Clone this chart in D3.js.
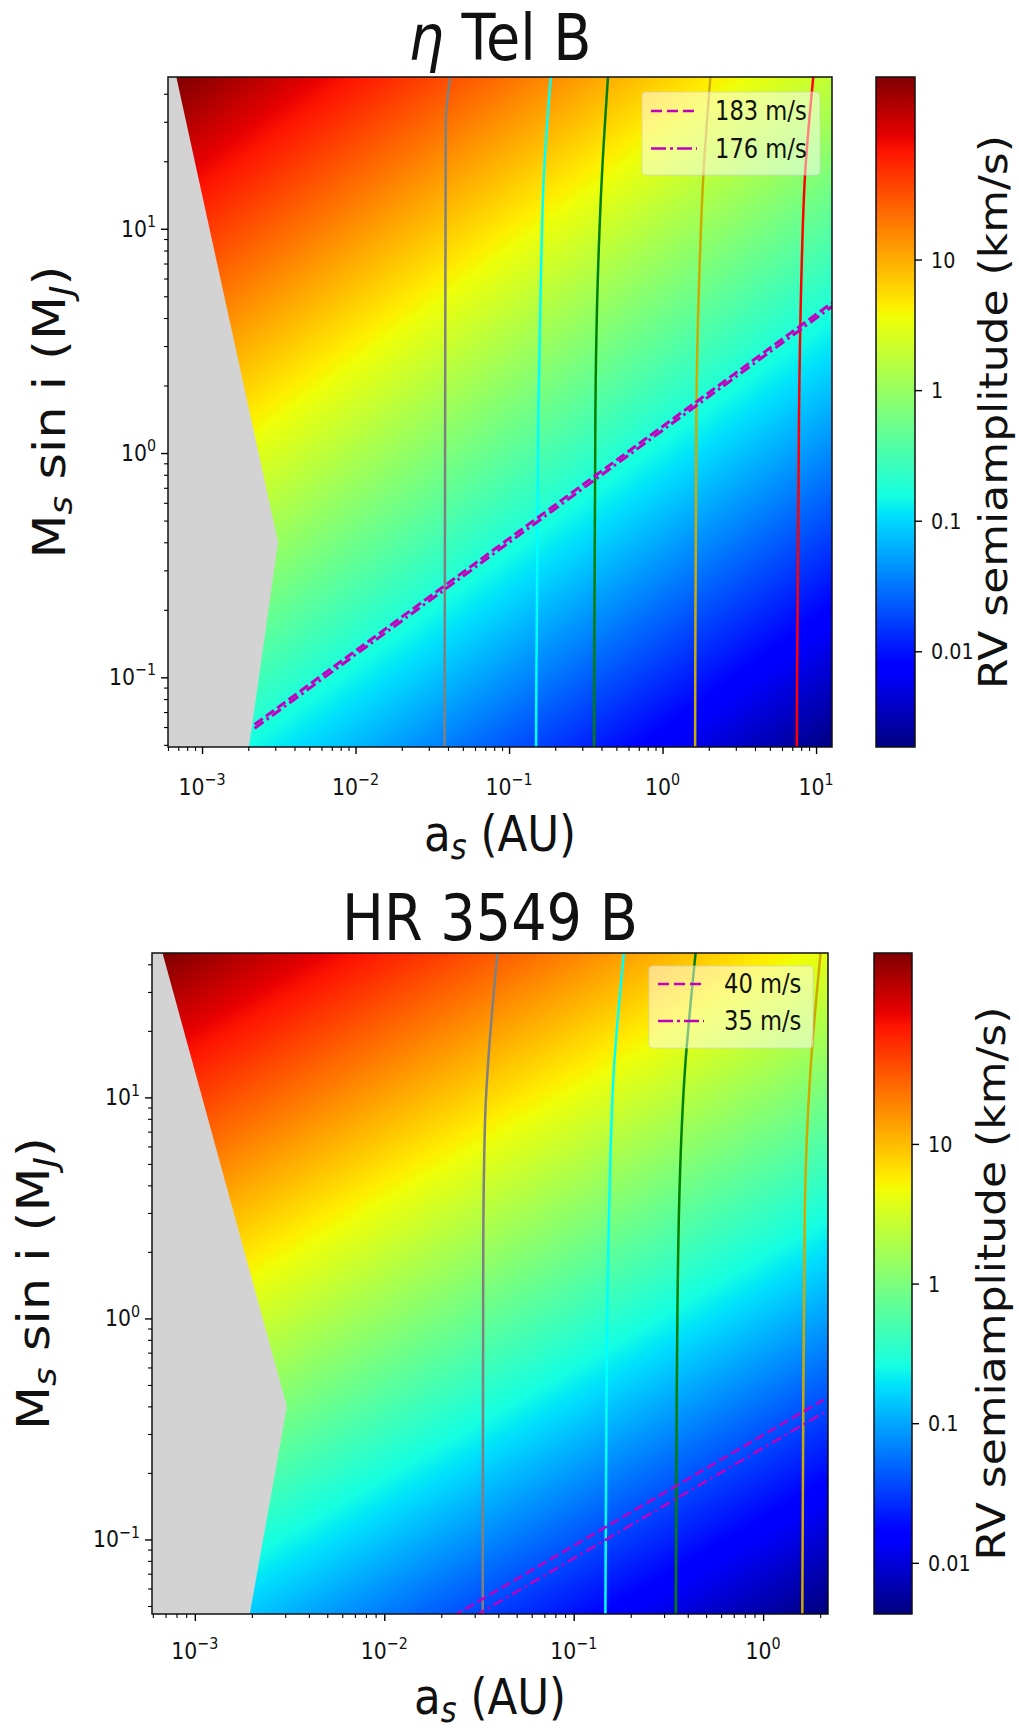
<!DOCTYPE html>
<html>
<head>
<meta charset="utf-8">
<script src="https://cdn.jsdelivr.net/npm/d3@7"></script>
<style>
  body { margin: 0; background: #fff; }
  svg { display: block; }
  text { font-family: "DejaVu Sans", sans-serif; fill: #111; }
</style>
</head>
<body>
<svg id="fig" width="1019" height="1730"></svg>
<script>
// ---------- values ----------
// eta Tel B panel
const etaXDomain = [6.0e-4, 12.7];          // a_s (AU)
const etaYDomain = [0.0489, 47.5];          // M_s sin i (M_J)
const etaKRange = [0.00185, 250];           // colour limits, km/s
const etaGridA = [1e-3, 1e-2, 1e-1, 1, 10];
const etaGridM = [0.1, 1, 10];
const etaGridK = [                          // km/s, rows follow etaGridM
  [0.44, 0.139, 0.044, 0.0139, 0.0044],
  [4.4, 1.39, 0.44, 0.139, 0.044],
  [44, 13.9, 4.4, 1.39, 0.44]
];
const etaExclA = [6.8e-4, 3.13e-3, 2.02e-3];  // edge of the grey zone
const etaExclM = [47.5, 0.40, 0.0489];
const etaGray  = [[0.0380, 0.0489], [0.0383, 1], [0.0387, 30], [0.0415, 47.5]];
const etaCyan  = [[0.150, 0.0489], [0.155, 1.46], [0.161, 5.8], [0.169, 18], [0.187, 47.5]];
const etaGreen = [[0.358, 0.0489], [0.365, 1.46], [0.378, 5.8], [0.404, 18], [0.441, 47.5]];
const etaGold  = [[1.63, 0.0489], [1.66, 1.46], [1.73, 5.8], [1.85, 18], [2.05, 47.5]];
const etaRed   = [[7.49, 0.0489], [7.74, 1.46], [8.01, 5.8], [8.5, 18], [9.59, 47.5]];
const etaDash  = [[2.2e-3, 0.0616], [12.7, 4.68]];   // 183 m/s
const etaDot   = [[2.2e-3, 0.0592], [12.7, 4.50]];   // 176 m/s
const etaLegend = ["183 m/s", "176 m/s"];
const etaXTicks = [1e-3, 1e-2, 1e-1, 1, 10];
const etaXExp = ["\u22123", "\u22122", "\u22121", "0", "1"];

// HR 3549 B panel
const hrXDomain = [5.94e-4, 2.2];
const hrYDomain = [0.046, 45];
const hrKRange = [0.0043, 233];
const hrGridA = [1e-3, 1e-2, 1e-1, 1];
const hrGridM = [0.1, 1, 10];
const hrGridK = [
  [0.43, 0.135, 0.043, 0.0135],
  [4.3, 1.35, 0.43, 0.135],
  [43, 13.5, 4.3, 1.35]
];
const hrExclA = [6.75e-4, 3.06e-3, 1.95e-3];
const hrExclM = [45, 0.40, 0.046];
const hrGray  = [[0.0331, 0.046], [0.0333, 2.0], [0.0340, 7.6], [0.0396, 45]];
const hrCyan  = [[0.147, 0.046], [0.149, 0.47], [0.154, 3.2], [0.163, 13.5], [0.184, 45]];
const hrGreen = [[0.346, 0.046], [0.350, 0.47], [0.360, 3.2], [0.387, 13.5], [0.440, 45]];
const hrGold  = [[1.61, 0.046], [1.63, 0.47], [1.66, 3.2], [1.78, 13.5], [2.01, 45]];
const hrDash  = [[0.0231, 0.045], [2.08, 0.428]];    // 40 m/s
const hrDot   = [[0.030, 0.045], [2.08, 0.374]];     // 35 m/s
const hrLegend = ["40 m/s", "35 m/s"];
const hrXTicks = [1e-3, 1e-2, 1e-1, 1];
const hrXExp = ["\u22123", "\u22122", "\u22121", "0"];

const yTicks = [0.1, 1, 10];
const yExp = ["\u22121", "0", "1"];
const cbTicks = [0.01, 0.1, 1, 10];
const cbLabels = ["0.01", "0.1", "1", "10"];

// ---------- drawing ----------
const SQ = 0.87;   // text in the picture is narrower than it is tall
const svg = d3.select("#fig");
const defs = svg.append("defs");

function jet(t) {
  t = Math.max(0, Math.min(1, t));
  let r, g, b;
  r = t < 0.35 ? 0 : t < 0.66 ? (t - 0.35) / 0.31 : t < 0.89 ? 1 : 1 - 0.5 * (t - 0.89) / 0.11;
  g = t < 0.125 ? 0 : t < 0.375 ? (t - 0.125) / 0.25 : t < 0.64 ? 1 : t < 0.91 ? 1 - (t - 0.64) / 0.27 : 0;
  b = t < 0.11 ? 0.5 + 0.5 * t / 0.11 : t < 0.34 ? 1 : t < 0.65 ? 1 - (t - 0.34) / 0.31 : 0;
  return [r * 255, g * 255, b * 255];
}

// text with sub/superscripts, squeezed horizontally like the picture
function mtext(parent, x, y, parts, o) {
  const g = parent.append("g")
    .attr("transform", `translate(${x},${y}) scale(${SQ},1)` + (o.rot ? ` rotate(${o.rot})` : ""));
  const t = g.append("text").attr("font-size", o.fs).attr("text-anchor", o.anchor || "start");
  let shift = 0;
  parts.forEach(p => {
    const sz = p.s ? o.fs * 0.7 : o.fs;
    const target = p.s === "sup" ? -o.fs * 0.42 : p.s === "sub" ? o.fs * 0.16 : 0;
    const ts = t.append("tspan").attr("font-size", sz).attr("dy", target - shift).text(p.t);
    if (p.i) ts.attr("font-style", "italic");
    shift = target;
  });
  return t;
}

// bilinear interpolation of log K on the read grid (log-log axes)
function makeField(gA, gM, gK) {
  const la = gA.map(Math.log10), lm = gM.map(Math.log10);
  const lk = gK.map(r => r.map(Math.log10));
  function seg(arr, v) {
    let i = 0;
    while (i < arr.length - 2 && v > arr[i + 1]) i++;
    return [i, (v - arr[i]) / (arr[i + 1] - arr[i])];
  }
  return (a, m) => {
    const [i, u] = seg(la, Math.log10(a));
    const [j, v] = seg(lm, Math.log10(m));
    const k00 = lk[j][i], k01 = lk[j][i + 1], k10 = lk[j + 1][i], k11 = lk[j + 1][i + 1];
    return (1 - v) * ((1 - u) * k00 + u * k01) + v * ((1 - u) * k10 + u * k11);
  };
}

function drawPanel(cfg) {
  const { box, cb } = cfg;
  const x = d3.scaleLog().domain(cfg.xDomain).range([box.left, box.right]);
  const y = d3.scaleLog().domain(cfg.yDomain).range([box.bottom, box.top]);
  const c = d3.scaleLog().domain(cfg.kRange).range([0, 1]);
  const field = makeField(cfg.gridA, cfg.gridM, cfg.gridK);

  // heat map
  const W = Math.round(box.right - box.left), H = Math.round(box.bottom - box.top);
  const canvas = document.createElement("canvas");
  canvas.width = W; canvas.height = H;
  const ctx = canvas.getContext("2d");
  const img = ctx.createImageData(W, H);
  for (let j = 0; j < H; j++) {
    const m = y.invert(box.top + j + 0.5);
    for (let i = 0; i < W; i++) {
      const a = x.invert(box.left + i + 0.5);
      const col = jet(c(Math.pow(10, field(a, m))));
      const k = (j * W + i) * 4;
      img.data[k] = col[0]; img.data[k + 1] = col[1]; img.data[k + 2] = col[2]; img.data[k + 3] = 255;
    }
  }
  ctx.putImageData(img, 0, 0);
  svg.append("image")
    .attr("x", box.left).attr("y", box.top).attr("width", box.right - box.left).attr("height", box.bottom - box.top)
    .attr("preserveAspectRatio", "none")
    .attr("href", canvas.toDataURL());

  const clipId = "clip" + cfg.id;
  defs.append("clipPath").attr("id", clipId).append("rect")
    .attr("x", box.left).attr("y", box.top).attr("width", box.right - box.left).attr("height", box.bottom - box.top);
  const plot = svg.append("g").attr("clip-path", `url(#${clipId})`);

  // excluded (grey) zone
  const edge = cfg.exclA.map((a, i) => [x(a), y(cfg.exclM[i])]);
  const poly = [[x(cfg.xDomain[0]), y(cfg.yDomain[1])], ...edge, [x(cfg.xDomain[0]), y(cfg.yDomain[0])]];
  plot.append("path").attr("d", d3.line()(poly) + "Z").attr("fill", "#d3d3d3");

  // vertical curves
  const curve = d3.line().x(d => x(d[0])).y(d => y(d[1])).curve(d3.curveMonotoneY);
  cfg.curves.forEach(([pts, col]) => {
    const sorted = pts.slice().sort((p, q) => q[1] - p[1]);
    plot.append("path").attr("d", curve(sorted)).attr("fill", "none")
      .attr("stroke", col).attr("stroke-width", 2.5);
  });

  // RV limit lines
  const straight = d3.line().x(d => x(d[0])).y(d => y(d[1]));
  const dashes = ["10,4", "11,4,2.5,4"];
  [cfg.dash, cfg.dot].forEach((pts, i) => {
    plot.append("path").attr("d", straight(pts)).attr("fill", "none")
      .attr("stroke", "#bf00bf").attr("stroke-width", cfg.limitWidth).attr("stroke-dasharray", dashes[i]);
  });

  // frame
  svg.append("rect").attr("x", box.left).attr("y", box.top)
    .attr("width", box.right - box.left).attr("height", box.bottom - box.top)
    .attr("fill", "none").attr("stroke", "#111").attr("stroke-width", 1.5);

  // x axis ticks
  const minorX = x.ticks().filter(v => Math.abs(Math.log10(v) - Math.round(Math.log10(v))) > 1e-6);
  svg.append("g").attr("transform", `translate(0,${box.bottom})`)
    .call(d3.axisBottom(x).tickValues(minorX).tickSize(4).tickFormat(""))
    .call(g => { g.select(".domain").remove(); g.selectAll("line").attr("stroke-width", 1.1); });
  svg.append("g").attr("transform", `translate(0,${box.bottom})`)
    .call(d3.axisBottom(x).tickValues(cfg.xTicks).tickSize(7).tickFormat(""))
    .call(g => { g.select(".domain").remove(); g.selectAll("line").attr("stroke-width", 1.4); });
  cfg.xTicks.forEach((v, i) => {
    mtext(svg, x(v), box.bottom + cfg.xLabelDy, [{ t: "10" }, { t: cfg.xExp[i], s: "sup" }], { fs: 23.5, anchor: "middle" });
  });

  // y axis ticks
  const minorY = y.ticks().filter(v => Math.abs(Math.log10(v) - Math.round(Math.log10(v))) > 1e-6);
  svg.append("g").attr("transform", `translate(${box.left},0)`)
    .call(d3.axisLeft(y).tickValues(minorY).tickSize(4).tickFormat(""))
    .call(g => { g.select(".domain").remove(); g.selectAll("line").attr("stroke-width", 1.1); });
  svg.append("g").attr("transform", `translate(${box.left},0)`)
    .call(d3.axisLeft(y).tickValues(yTicks).tickSize(7).tickFormat(""))
    .call(g => { g.select(".domain").remove(); g.selectAll("line").attr("stroke-width", 1.4); });
  yTicks.forEach((v, i) => {
    mtext(svg, box.left - 12, y(v) + 8, [{ t: "10" }, { t: yExp[i], s: "sup" }], { fs: 23.5, anchor: "end" });
  });

  // titles and axis labels
  const cx = (box.left + box.right) / 2, cy = (box.top + box.bottom) / 2;
  mtext(svg, cx, cfg.titleY, cfg.title, { fs: 64, anchor: "middle" });
  mtext(svg, cx, cfg.xLabelY, [{ t: "a" }, { t: "s", s: "sub", i: true }, { t: " (AU)" }], { fs: 50, anchor: "middle" });
  mtext(svg, cfg.yLabelX, cy,
    [{ t: "M" }, { t: "s", s: "sub", i: true }, { t: " sin i (M" }, { t: "J", s: "sub", i: true }, { t: ")" }],
    { fs: 51, anchor: "middle", rot: -90 });

  // legend
  const lg = cfg.legend;
  svg.append("rect").attr("x", lg.x).attr("y", lg.y).attr("width", lg.w).attr("height", lg.h)
    .attr("rx", 4).attr("fill", "#fff").attr("fill-opacity", 0.5)
    .attr("stroke", "#ccc").attr("stroke-opacity", 0.6);
  const legDash = ["11,5", "15,4,3,4"];
  cfg.legendLabels.forEach((lab, i) => {
    const ry = lg.y + lg.row0 + i * lg.step;
    svg.append("line").attr("x1", lg.x + 9).attr("x2", lg.x + 55).attr("y1", ry).attr("y2", ry)
      .attr("stroke", "#bf00bf").attr("stroke-width", 2.6).attr("stroke-dasharray", legDash[i]);
    mtext(svg, lg.x + lg.textDx, ry + 9, [{ t: lab }], { fs: 26 });
  });

  // colour bar
  const gradId = "grad" + cfg.id;
  const grad = defs.append("linearGradient").attr("id", gradId)
    .attr("x1", 0).attr("y1", 1).attr("x2", 0).attr("y2", 0);
  [0, 0.11, 0.125, 0.34, 0.35, 0.375, 0.64, 0.65, 0.66, 0.89, 0.91, 1].forEach(t => {
    const col = jet(t);
    grad.append("stop").attr("offset", t).attr("stop-color", `rgb(${col.map(Math.round).join(",")})`);
  });
  svg.append("rect").attr("x", cb.left).attr("y", box.top).attr("width", cb.right - cb.left)
    .attr("height", box.bottom - box.top).attr("fill", `url(#${gradId})`)
    .attr("stroke", "#111").attr("stroke-width", 1.5);
  const cy2 = d3.scaleLog().domain(cfg.kRange).range([box.bottom, box.top]);
  svg.append("g").attr("transform", `translate(${cb.right},0)`)
    .call(d3.axisRight(cy2).tickValues(cbTicks).tickSize(7).tickFormat(""))
    .call(g => { g.select(".domain").remove(); g.selectAll("line").attr("stroke-width", 1.4); });
  cbTicks.forEach((v, i) => {
    mtext(svg, cb.right + 16, cy2(v) + 8, [{ t: cbLabels[i] }], { fs: 22 });
  });
  mtext(svg, cfg.cbLabelX, cy, [{ t: "RV semiamplitude (km/s)" }], { fs: 44, anchor: "middle", rot: -90 });
}

drawPanel({
  id: "eta",
  box: { left: 168, right: 832, top: 77, bottom: 747 },
  cb: { left: 876, right: 915 },
  xDomain: etaXDomain, yDomain: etaYDomain, kRange: etaKRange,
  gridA: etaGridA, gridM: etaGridM, gridK: etaGridK,
  exclA: etaExclA, exclM: etaExclM,
  curves: [[etaGray, "#808080"], [etaCyan, "#00ffff"], [etaGreen, "#008000"], [etaGold, "#ccaa00"], [etaRed, "#ff0000"]],
  dash: etaDash, dot: etaDot, limitWidth: 3,
  xTicks: etaXTicks, xExp: etaXExp, xLabelDy: 48,
  title: [{ t: "\u03b7", i: true }, { t: " Tel B" }], titleY: 60,
  xLabelY: 851, yLabelX: 65, cbLabelX: 1007,
  legend: { x: 642, y: 92, w: 178, h: 83, row0: 19, step: 37.5, textDx: 73 },
  legendLabels: etaLegend
});

drawPanel({
  id: "hr",
  box: { left: 152, right: 828, top: 953, bottom: 1614 },
  cb: { left: 874, right: 912 },
  xDomain: hrXDomain, yDomain: hrYDomain, kRange: hrKRange,
  gridA: hrGridA, gridM: hrGridM, gridK: hrGridK,
  exclA: hrExclA, exclM: hrExclM,
  curves: [[hrGray, "#808080"], [hrCyan, "#00ffff"], [hrGreen, "#008000"], [hrGold, "#ccaa00"]],
  dash: hrDash, dot: hrDot, limitWidth: 2.5,
  xTicks: hrXTicks, xExp: hrXExp, xLabelDy: 45,
  title: [{ t: "HR 3549 B" }], titleY: 940,
  xLabelY: 1714, yLabelX: 49, cbLabelX: 1005,
  legend: { x: 649, y: 966, w: 164, h: 82, row0: 18, step: 37, textDx: 75 },
  legendLabels: hrLegend
});
</script>
</body>
</html>
